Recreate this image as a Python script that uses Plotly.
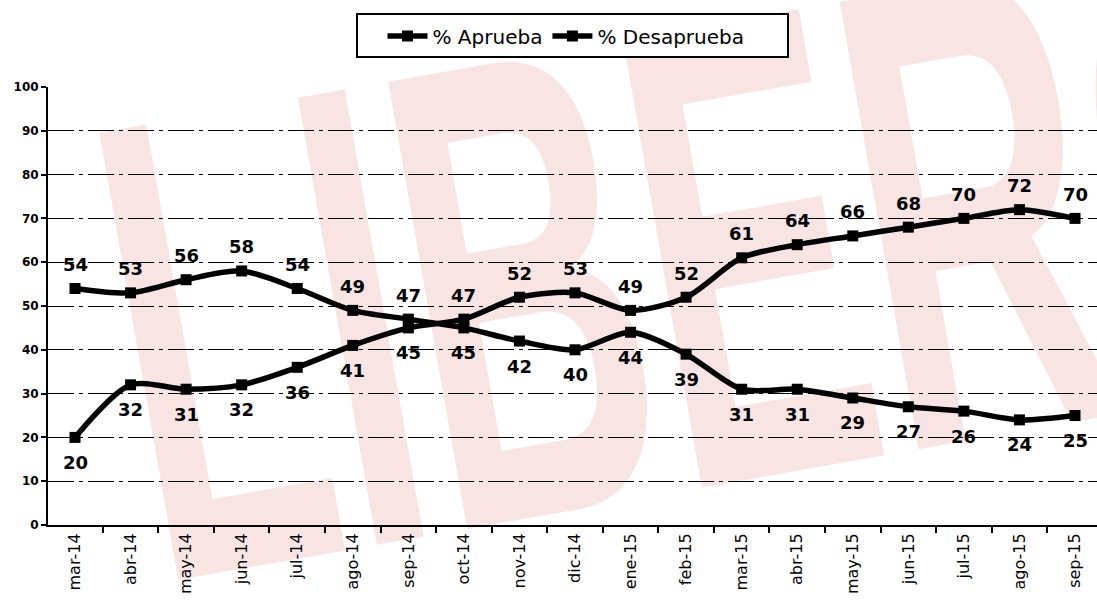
import plotly.graph_objects as go

months = ["mar-14", "abr-14", "may-14", "jun-14", "jul-14", "ago-14", "sep-14",
          "oct-14", "nov-14", "dic-14", "ene-15", "feb-15", "mar-15", "abr-15",
          "may-15", "jun-15", "jul-15", "ago-15", "sep-15"]
aprueba = [54, 53, 56, 58, 54, 49, 47, 45, 42, 40, 44, 39, 31, 31, 29, 27, 26, 24, 25]
desaprueba = [20, 32, 31, 32, 36, 41, 45, 47, 52, 53, 49, 52, 61, 64, 66, 68, 70, 72, 70]
aprueba_lbl_side = ["top"] * 7 + ["bottom"] * 12
desaprueba_lbl_side = ["bottom"] * 7 + ["top"] * 12
y_ticks = list(range(0, 101, 10))
watermark = "LIBERO"

FONT = "DejaVu Sans, Verdana, sans-serif"

W, H = 1097, 600
ML, MR, MT, MB = 48, 0, 87, 75
PW, PH = W - ML - MR, H - MT - MB


def px_x(p):
    return (p - ML) / PW


def px_y(p):
    return (H - MB - p) / PH


fig = go.Figure()
for name, vals in [("% Aprueba", aprueba), ("% Desaprueba", desaprueba)]:
    fig.add_trace(go.Scatter(
        x=months, y=vals, name=name, mode="lines+markers",
        line=dict(color="black", width=5.5, shape="spline", smoothing=0.8),
        marker=dict(symbol="square", size=11, color="black"),
        cliponaxis=False,
    ))

annotations = [dict(
    text=watermark, xref="paper", yref="paper", x=px_x(730), y=px_y(250),
    showarrow=False, textangle=-10,
    font=dict(family="Liberation Sans, Arial, sans-serif", size=660,
              color="#f9e4e4", weight="bold"),
)]
for vals, sides in [(aprueba, aprueba_lbl_side), (desaprueba, desaprueba_lbl_side)]:
    for m, v, s in zip(months, vals, sides):
        annotations.append(dict(
            x=m, y=v, xref="x", yref="y", text=f"<b>{v}</b>", showarrow=False,
            yshift=24 if s == "top" else -25,
            font=dict(family=FONT, size=18, color="black"),
        ))

fig.update_layout(
    width=W, height=H,
    margin=dict(l=ML, r=MR, t=MT, b=MB, autoexpand=False),
    paper_bgcolor="white", plot_bgcolor="rgba(0,0,0,0)",
    font=dict(family=FONT, color="black"),
    showlegend=True,
    legend=dict(
        orientation="h", x=px_x(566), xanchor="center", y=px_y(36), yanchor="middle",
        borderwidth=0, bgcolor="rgba(0,0,0,0)",
        font=dict(family=FONT, size=20, color="black"),
        itemwidth=40, traceorder="normal",
    ),
    shapes=[dict(
        type="rect", xref="paper", yref="paper",
        x0=px_x(357), x1=px_x(788), y0=px_y(57), y1=px_y(14),
        line=dict(color="black", width=2), fillcolor="white", layer="below",
    )],
    xaxis=dict(
        type="category", range=[-0.486, 18.396],
        tickangle=-90, tickson="boundaries", ticks="outside", ticklen=6,
        tickwidth=1.5, tickcolor="black",
        showline=True, linecolor="black", linewidth=2,
        showgrid=False, tickfont=dict(family=FONT, size=16, color="black"),
    ),
    yaxis=dict(
        range=[0, 100], tickvals=y_ticks, ticks="outside", ticklen=5,
        tickwidth=1.5, tickcolor="black",
        showline=True, linecolor="black", linewidth=2,
        showgrid=True, gridcolor="black", gridwidth=1.2,
        griddash="26px,5px,4px,5px", zeroline=False,
        tickfont=dict(family=FONT, size=12, color="black", weight="bold"),
    ),
    annotations=annotations,
)

post = """
document.body.style.margin = '0';
document.body.style.padding = '0';
var gd = document.getElementById('{plot_id}');
try {
  var texts = gd.querySelectorAll('.annotation-text');
  for (var i = 0; i < texts.length; i++) {
    var t = texts[i];
    if (t.textContent === 'LIBERO') {
      var bb = t.getBBox();
      var cx = bb.x + bb.width / 2, cy = bb.y + bb.height / 2;
      var prev = t.getAttribute('transform') || '';
      t.setAttribute('transform', prev + ' translate(' + cx + ',' + cy + ') scale(0.5,1) translate(' + (-cx) + ',' + (-cy) + ')');
      var g = t.closest('.annotation');
      var below = gd.querySelector('.layer-below');
      if (g && below) { below.insertBefore(g, below.firstChild); }
    }
  }
} catch (e) {}
"""

fig.write_html("out.html", post_script=post, config={"displayModeBar": False})
